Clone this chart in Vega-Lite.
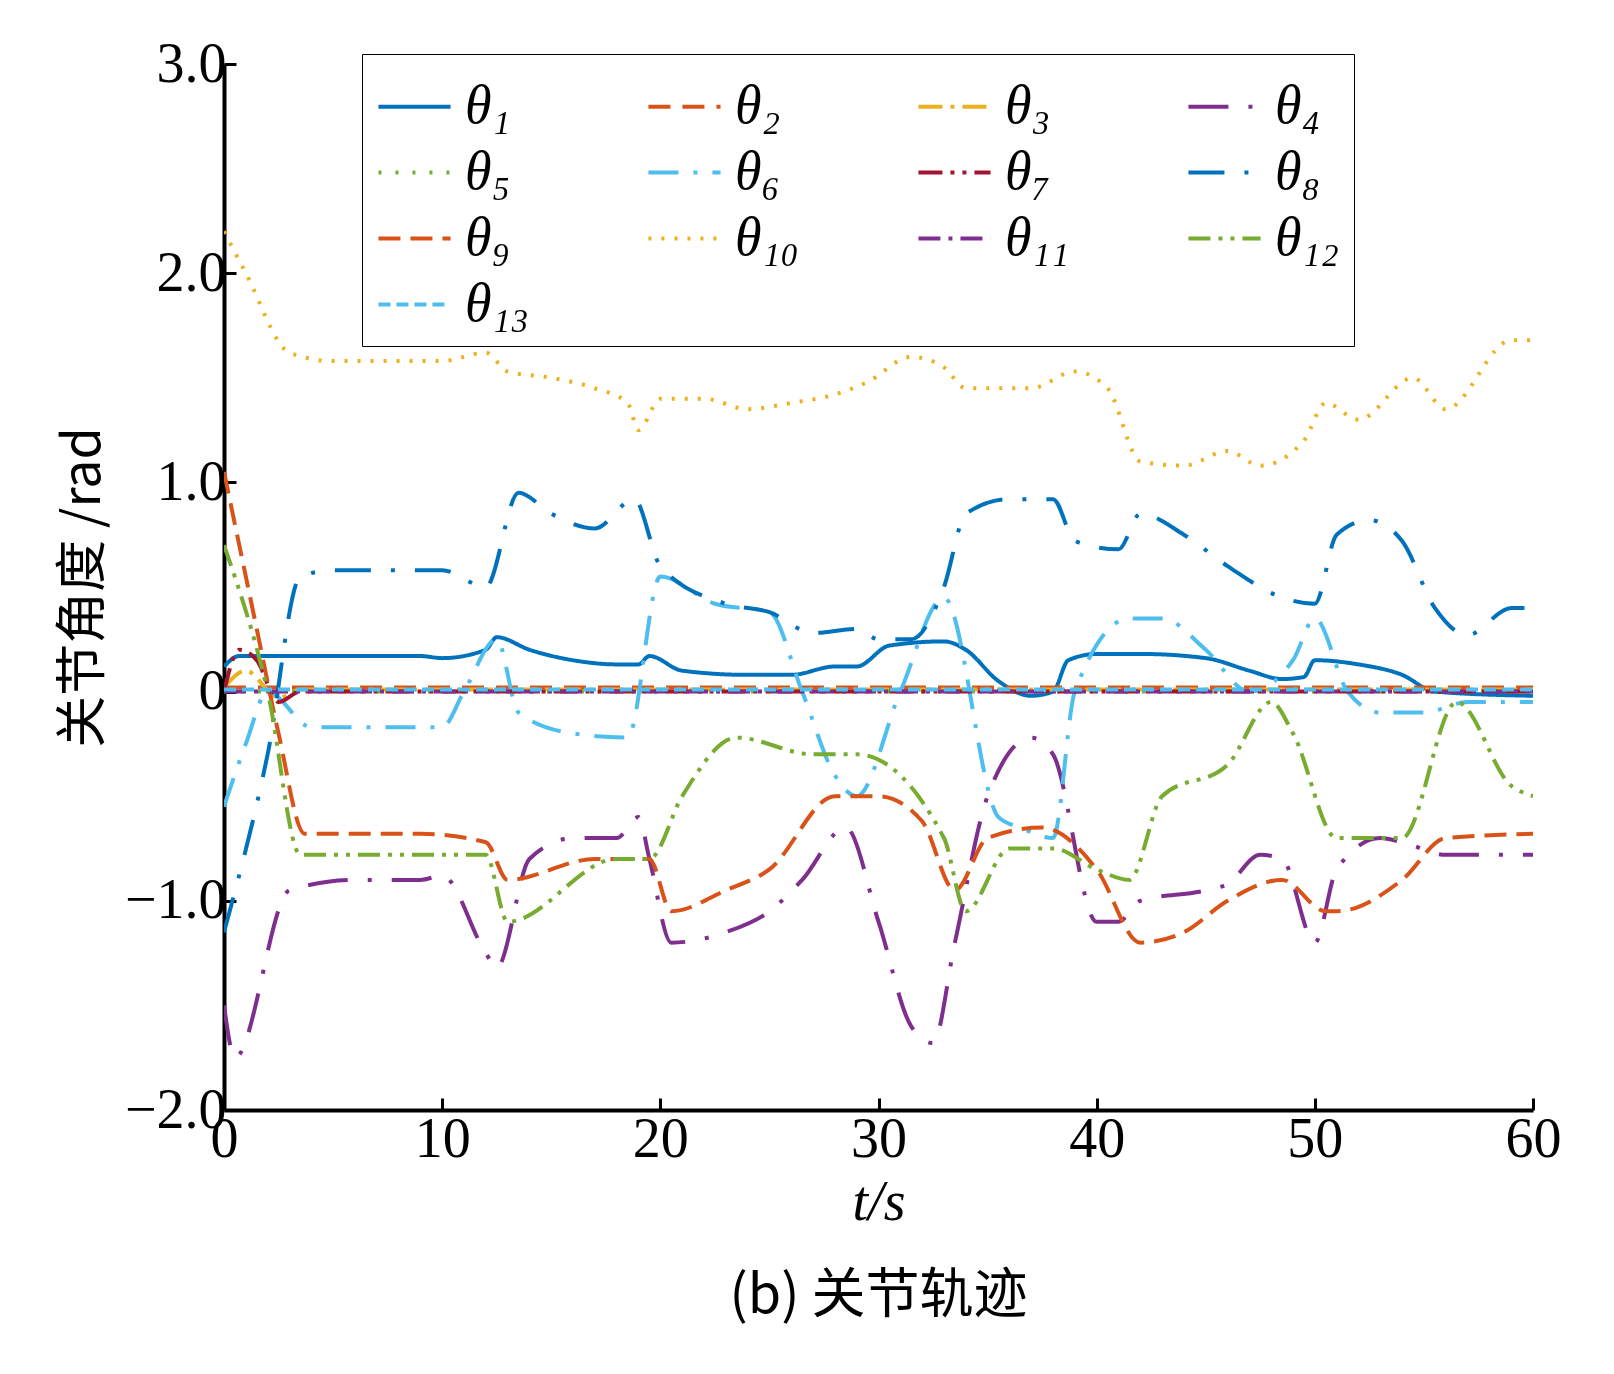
{
  "$schema": "https://vega.github.io/schema/vega-lite/v6.json",
  "width": 1309,
  "height": 1046,
  "autosize": "none",
  "padding": {"left": 224, "top": 64, "right": 81, "bottom": 264},
  "config": {"font": "Liberation Serif", "view": {"stroke": null}},
  "title": {"text": "(b) 关节轨迹", "orient": "bottom", "font": "Noto Sans CJK SC", "fontSize": 54, "fontWeight": "normal", "offset": 40},
  "data": {"values": [
    {"s":"θ₁","t":0,"v":0.12},{"s":"θ₁","t":0.7,"v":0.17},{"s":"θ₁","t":9,"v":0.17},{"s":"θ₁","t":10,"v":0.16},{"s":"θ₁","t":12,"v":0.2},{"s":"θ₁","t":12.5,"v":0.26},{"s":"θ₁","t":14,"v":0.2},{"s":"θ₁","t":16,"v":0.15},{"s":"θ₁","t":18,"v":0.13},{"s":"θ₁","t":19,"v":0.13},{"s":"θ₁","t":19.5,"v":0.17},{"s":"θ₁","t":21,"v":0.1},{"s":"θ₁","t":24,"v":0.08},{"s":"θ₁","t":26,"v":0.08},{"s":"θ₁","t":28,"v":0.12},{"s":"θ₁","t":29,"v":0.12},{"s":"θ₁","t":30.5,"v":0.22},{"s":"θ₁","t":33,"v":0.24},{"s":"θ₁","t":34,"v":0.2},{"s":"θ₁","t":35.5,"v":0.05},{"s":"θ₁","t":37,"v":-0.02},{"s":"θ₁","t":38,"v":0},{"s":"θ₁","t":38.7,"v":0.15},{"s":"θ₁","t":40,"v":0.18},{"s":"θ₁","t":42,"v":0.18},{"s":"θ₁","t":45,"v":0.16},{"s":"θ₁","t":47,"v":0.1},{"s":"θ₁","t":48.5,"v":0.06},{"s":"θ₁","t":49.5,"v":0.07},{"s":"θ₁","t":50,"v":0.15},{"s":"θ₁","t":52,"v":0.13},{"s":"θ₁","t":54,"v":0.08},{"s":"θ₁","t":55.5,"v":0},{"s":"θ₁","t":60,"v":-0.02},
    {"s":"θ₂","t":0,"v":0.02},{"s":"θ₂","t":60,"v":0.02},
    {"s":"θ₃","t":0,"v":0.02},{"s":"θ₃","t":1,"v":0.1},{"s":"θ₃","t":2.5,"v":-0.03},{"s":"θ₃","t":3.5,"v":0.01},{"s":"θ₃","t":60,"v":0.01},
    {"s":"θ₄","t":0,"v":-1.5},{"s":"θ₄","t":0.5,"v":-1.75},{"s":"θ₄","t":3,"v":-0.95},{"s":"θ₄","t":6,"v":-0.9},{"s":"θ₄","t":9,"v":-0.9},{"s":"θ₄","t":10,"v":-0.88},{"s":"θ₄","t":12,"v":-1.25},{"s":"θ₄","t":12.5,"v":-1.32},{"s":"θ₄","t":14,"v":-0.8},{"s":"θ₄","t":16,"v":-0.7},{"s":"θ₄","t":18,"v":-0.7},{"s":"θ₄","t":19,"v":-0.6},{"s":"θ₄","t":19.5,"v":-0.8},{"s":"θ₄","t":20.5,"v":-1.2},{"s":"θ₄","t":23,"v":-1.15},{"s":"θ₄","t":25,"v":-1.05},{"s":"θ₄","t":26.5,"v":-0.9},{"s":"θ₄","t":28.5,"v":-0.65},{"s":"θ₄","t":30,"v":-1.1},{"s":"θ₄","t":31.5,"v":-1.6},{"s":"θ₄","t":32.5,"v":-1.68},{"s":"θ₄","t":33.5,"v":-1.2},{"s":"θ₄","t":35,"v":-0.5},{"s":"θ₄","t":37,"v":-0.22},{"s":"θ₄","t":38,"v":-0.3},{"s":"θ₄","t":40,"v":-1.1},{"s":"θ₄","t":41,"v":-1.1},{"s":"θ₄","t":42,"v":-1.0},{"s":"θ₄","t":45,"v":-0.95},{"s":"θ₄","t":46,"v":-0.92},{"s":"θ₄","t":47.5,"v":-0.78},{"s":"θ₄","t":48.5,"v":-0.8},{"s":"θ₄","t":50,"v":-1.2},{"s":"θ₄","t":51,"v":-0.85},{"s":"θ₄","t":53,"v":-0.7},{"s":"θ₄","t":54,"v":-0.72},{"s":"θ₄","t":56,"v":-0.78},{"s":"θ₄","t":60,"v":-0.78},
    {"s":"θ₅","t":0,"v":0},{"s":"θ₅","t":60,"v":0},
    {"s":"θ₆","t":0,"v":-0.55},{"s":"θ₆","t":1,"v":-0.25},{"s":"θ₆","t":2,"v":0},{"s":"θ₆","t":4,"v":-0.17},{"s":"θ₆","t":10,"v":-0.17},{"s":"θ₆","t":11,"v":0},{"s":"θ₆","t":12.5,"v":0.25},{"s":"θ₆","t":13.5,"v":-0.1},{"s":"θ₆","t":16,"v":-0.2},{"s":"θ₆","t":18.5,"v":-0.22},{"s":"θ₆","t":20,"v":0.55},{"s":"θ₆","t":22.5,"v":0.42},{"s":"θ₆","t":25,"v":0.38},{"s":"θ₆","t":26.5,"v":0},{"s":"θ₆","t":28,"v":-0.4},{"s":"θ₆","t":29,"v":-0.5},{"s":"θ₆","t":31,"v":0},{"s":"θ₆","t":33,"v":0.45},{"s":"θ₆","t":35.5,"v":-0.6},{"s":"θ₆","t":36.5,"v":-0.65},{"s":"θ₆","t":38,"v":-0.7},{"s":"θ₆","t":39,"v":0},{"s":"θ₆","t":41.5,"v":0.35},{"s":"θ₆","t":43,"v":0.35},{"s":"θ₆","t":45,"v":0.2},{"s":"θ₆","t":47,"v":0},{"s":"θ₆","t":49,"v":0.15},{"s":"θ₆","t":50,"v":0.35},{"s":"θ₆","t":51.5,"v":0},{"s":"θ₆","t":53,"v":-0.1},{"s":"θ₆","t":55,"v":-0.1},{"s":"θ₆","t":57,"v":-0.05},{"s":"θ₆","t":60,"v":-0.05},
    {"s":"θ₇","t":0,"v":0},{"s":"θ₇","t":0.7,"v":0.2},{"s":"θ₇","t":1.5,"v":0.15},{"s":"θ₇","t":2.5,"v":-0.05},{"s":"θ₇","t":3.5,"v":0},{"s":"θ₇","t":60,"v":0},
    {"s":"θ₈","t":0,"v":-1.15},{"s":"θ₈","t":2,"v":-0.3},{"s":"θ₈","t":3.5,"v":0.55},{"s":"θ₈","t":5,"v":0.58},{"s":"θ₈","t":10,"v":0.58},{"s":"θ₈","t":12,"v":0.5},{"s":"θ₈","t":13.5,"v":0.95},{"s":"θ₈","t":15,"v":0.85},{"s":"θ₈","t":17,"v":0.78},{"s":"θ₈","t":18.8,"v":0.92},{"s":"θ₈","t":20,"v":0.6},{"s":"θ₈","t":23,"v":0.42},{"s":"θ₈","t":25,"v":0.38},{"s":"θ₈","t":27,"v":0.28},{"s":"θ₈","t":29,"v":0.3},{"s":"θ₈","t":30,"v":0.25},{"s":"θ₈","t":31.5,"v":0.25},{"s":"θ₈","t":33,"v":0.5},{"s":"θ₈","t":34,"v":0.85},{"s":"θ₈","t":36,"v":0.92},{"s":"θ₈","t":38,"v":0.92},{"s":"θ₈","t":39,"v":0.72},{"s":"θ₈","t":41,"v":0.68},{"s":"θ₈","t":42,"v":0.85},{"s":"θ₈","t":44,"v":0.75},{"s":"θ₈","t":46,"v":0.6},{"s":"θ₈","t":48.5,"v":0.45},{"s":"θ₈","t":50,"v":0.42},{"s":"θ₈","t":51,"v":0.75},{"s":"θ₈","t":52.5,"v":0.82},{"s":"θ₈","t":54,"v":0.72},{"s":"θ₈","t":55.5,"v":0.4},{"s":"θ₈","t":57,"v":0.27},{"s":"θ₈","t":59,"v":0.4},{"s":"θ₈","t":60,"v":0.4},
    {"s":"θ₉","t":0,"v":1.05},{"s":"θ₉","t":1.5,"v":0.3},{"s":"θ₉","t":2.5,"v":-0.2},{"s":"θ₉","t":3.7,"v":-0.68},{"s":"θ₉","t":9,"v":-0.68},{"s":"θ₉","t":12,"v":-0.72},{"s":"θ₉","t":13,"v":-0.9},{"s":"θ₉","t":17,"v":-0.8},{"s":"θ₉","t":19.5,"v":-0.8},{"s":"θ₉","t":20.5,"v":-1.05},{"s":"θ₉","t":23,"v":-0.95},{"s":"θ₉","t":25,"v":-0.85},{"s":"θ₉","t":28,"v":-0.5},{"s":"θ₉","t":30,"v":-0.5},{"s":"θ₉","t":32,"v":-0.62},{"s":"θ₉","t":33.5,"v":-0.95},{"s":"θ₉","t":35,"v":-0.7},{"s":"θ₉","t":37.5,"v":-0.65},{"s":"θ₉","t":40,"v":-0.85},{"s":"θ₉","t":42,"v":-1.2},{"s":"θ₉","t":44,"v":-1.15},{"s":"θ₉","t":46,"v":-1.0},{"s":"θ₉","t":48.5,"v":-0.9},{"s":"θ₉","t":50.5,"v":-1.05},{"s":"θ₉","t":51,"v":-1.05},{"s":"θ₉","t":54,"v":-0.9},{"s":"θ₉","t":56,"v":-0.7},{"s":"θ₉","t":60,"v":-0.68},
    {"s":"θ₁₀","t":0,"v":2.2},{"s":"θ₁₀","t":1,"v":2.0},{"s":"θ₁₀","t":3,"v":1.62},{"s":"θ₁₀","t":5,"v":1.58},{"s":"θ₁₀","t":10,"v":1.58},{"s":"θ₁₀","t":12,"v":1.62},{"s":"θ₁₀","t":13,"v":1.53},{"s":"θ₁₀","t":15,"v":1.5},{"s":"θ₁₀","t":17,"v":1.45},{"s":"θ₁₀","t":18.5,"v":1.38},{"s":"θ₁₀","t":19,"v":1.25},{"s":"θ₁₀","t":20,"v":1.4},{"s":"θ₁₀","t":22,"v":1.4},{"s":"θ₁₀","t":24,"v":1.35},{"s":"θ₁₀","t":26,"v":1.38},{"s":"θ₁₀","t":28,"v":1.42},{"s":"θ₁₀","t":29.5,"v":1.48},{"s":"θ₁₀","t":31.5,"v":1.6},{"s":"θ₁₀","t":33,"v":1.55},{"s":"θ₁₀","t":34,"v":1.45},{"s":"θ₁₀","t":37,"v":1.45},{"s":"θ₁₀","t":39,"v":1.53},{"s":"θ₁₀","t":40.5,"v":1.45},{"s":"θ₁₀","t":42,"v":1.1},{"s":"θ₁₀","t":44,"v":1.08},{"s":"θ₁₀","t":46,"v":1.15},{"s":"θ₁₀","t":47.5,"v":1.08},{"s":"θ₁₀","t":49.5,"v":1.2},{"s":"θ₁₀","t":50.5,"v":1.38},{"s":"θ₁₀","t":52,"v":1.3},{"s":"θ₁₀","t":54.5,"v":1.5},{"s":"θ₁₀","t":56,"v":1.35},{"s":"θ₁₀","t":59,"v":1.68},{"s":"θ₁₀","t":60,"v":1.68},
    {"s":"θ₁₁","t":0,"v":0},{"s":"θ₁₁","t":60,"v":0},
    {"s":"θ₁₂","t":0,"v":0.7},{"s":"θ₁₂","t":2,"v":0},{"s":"θ₁₂","t":3.5,"v":-0.78},{"s":"θ₁₂","t":12,"v":-0.78},{"s":"θ₁₂","t":13,"v":-1.1},{"s":"θ₁₂","t":18,"v":-0.8},{"s":"θ₁₂","t":19.5,"v":-0.8},{"s":"θ₁₂","t":21,"v":-0.5},{"s":"θ₁₂","t":23.5,"v":-0.22},{"s":"θ₁₂","t":27,"v":-0.3},{"s":"θ₁₂","t":29,"v":-0.3},{"s":"θ₁₂","t":33,"v":-0.7},{"s":"θ₁₂","t":34,"v":-1.05},{"s":"θ₁₂","t":36,"v":-0.75},{"s":"θ₁₂","t":38,"v":-0.75},{"s":"θ₁₂","t":40,"v":-0.85},{"s":"θ₁₂","t":41.5,"v":-0.9},{"s":"θ₁₂","t":43,"v":-0.5},{"s":"θ₁₂","t":46,"v":-0.35},{"s":"θ₁₂","t":48,"v":-0.05},{"s":"θ₁₂","t":49,"v":-0.2},{"s":"θ₁₂","t":51,"v":-0.7},{"s":"θ₁₂","t":54,"v":-0.7},{"s":"θ₁₂","t":56.5,"v":-0.05},{"s":"θ₁₂","t":59,"v":-0.45},{"s":"θ₁₂","t":60,"v":-0.5},
    {"s":"θ₁₃","t":0,"v":0.01},{"s":"θ₁₃","t":60,"v":0.01}
  ]},
  "mark": {"type": "line", "strokeWidth": 4, "interpolate": "monotone", "clip": true},
  "encoding": {
    "x": {"field": "t", "type": "quantitative", "scale": {"domain": [0, 60], "nice": false},
      "axis": {"values": [0, 10, 20, 30, 40, 50, 60], "title": "t/s", "titleFontSize": 56, "titleFontWeight": "normal", "titleFontStyle": "italic", "titleFont": "Liberation Serif", "labelFontSize": 56, "tickSize": -12, "tickWidth": 3, "domainWidth": 4, "domainColor": "black", "tickColor": "black", "labelColor": "black", "titleColor": "black", "grid": false, "labelPadding": 14, "titlePadding": 8, "labelFlush": false}},
    "y": {"field": "v", "type": "quantitative", "scale": {"domain": [-2, 3], "nice": false},
      "axis": {"values": [-2, -1, 0, 1, 2, 3], "labelExpr": "datum.value == 0 ? '0' : replace(format(datum.value, '.1f'), '-', '−')", "title": "关节角度 /rad", "titleFont": "Noto Sans CJK SC", "titleFontSize": 52, "titleFontWeight": "normal", "labelFontSize": 56, "tickSize": -12, "tickWidth": 3, "domainWidth": 4, "domainColor": "black", "tickColor": "black", "labelColor": "black", "titleColor": "black", "grid": false, "labelPadding": 10, "titlePadding": 14, "labelFlush": false}},
    "detail": {"field": "s"},
    "color": {"field": "s", "type": "nominal", "sort": null,
      "scale": {"domain": ["θ₁","θ₂","θ₃","θ₄","θ₅","θ₆","θ₇","θ₈","θ₉","θ₁₀","θ₁₁","θ₁₂","θ₁₃"],
        "range": ["#0072BD","#D95319","#EDB120","#7E2F8E","#77AC30","#4DBEEE","#A2142F","#0072BD","#D95319","#EDB120","#7E2F8E","#77AC30","#4DBEEE"]},
      "legend": {"title": null, "orient": "none", "legendX": 138, "legendY": -10, "columns": 4, "direction": "horizontal", "symbolType": "stroke", "symbolSize": 5200, "symbolStrokeWidth": 4, "labelFontSize": 54, "labelFontStyle": "italic", "labelFont": "Liberation Serif", "labelColor": "black", "columnPadding": 110, "rowPadding": 0, "padding": 14, "strokeColor": "black", "fillColor": "white", "labelLimit": 160, "labelOffset": 12}},
    "strokeDash": {"field": "s", "type": "nominal", "sort": null,
      "scale": {"domain": ["θ₁","θ₂","θ₃","θ₄","θ₅","θ₆","θ₇","θ₈","θ₉","θ₁₀","θ₁₁","θ₁₂","θ₁₃"],
        "range": [[1,0],[22,12],[24,8,4,8],[40,20,4,20],[3,14],[30,15,4,15],[24,8,4,8,4,8],[36,20,4,20],[22,10],[3,10],[22,8,4,8],[22,8,4,8,4,8],[12,6]]}}
  }
}
